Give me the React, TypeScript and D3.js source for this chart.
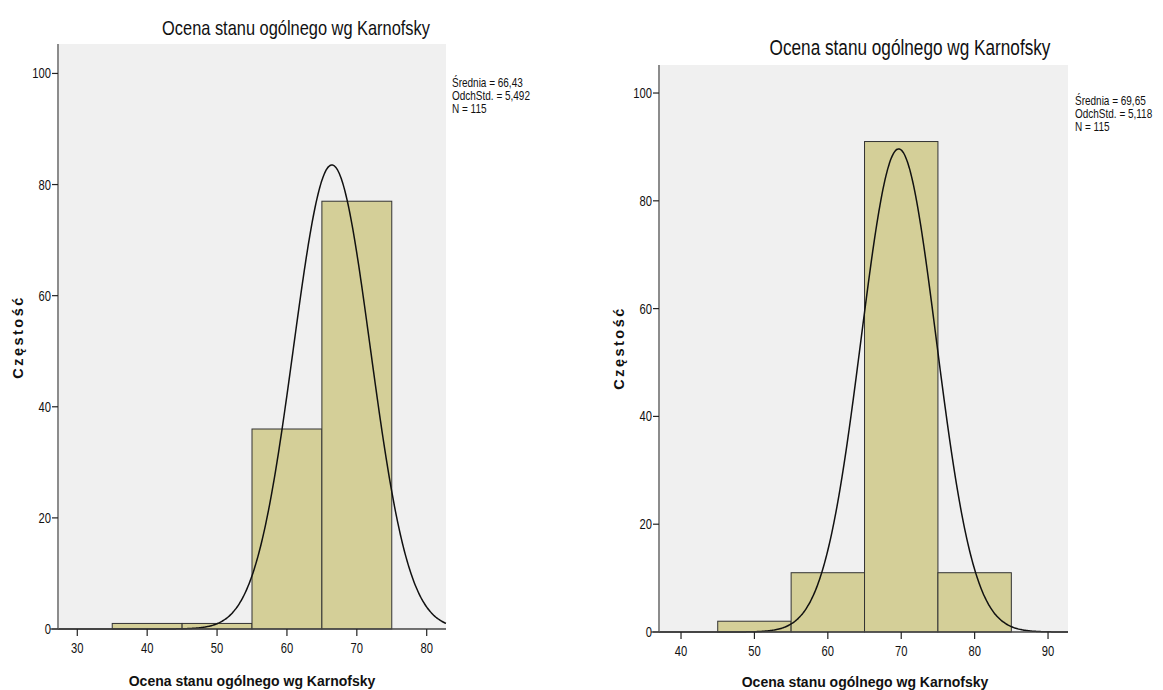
import React from "react";
import * as d3 from "d3";

// Histogram data: bin starts (width 10) and counts
const binWidth = 10;
const leftBinStarts = [35, 45, 55, 65];
const leftCounts = [1, 1, 36, 77];
const rightBinStarts = [45, 55, 65, 75];
const rightCounts = [2, 11, 91, 11];

// Descriptive statistics shown beside each chart
const leftMean = 66.43;
const leftSd = 5.492;
const leftN = 115;
const rightMean = 69.65;
const rightSd = 5.118;
const rightN = 115;

const leftStatLines = ["Średnia = 66,43", "OdchStd. = 5,492", "N = 115"];
const rightStatLines = ["Średnia = 69,65", "OdchStd. = 5,118", "N = 115"];

const yTicks = [0, 20, 40, 60, 80, 100];
const leftXTicks = [30, 40, 50, 60, 70, 80];
const rightXTicks = [40, 50, 60, 70, 80, 90];

const chartTitle = "Ocena stanu ogólnego wg Karnofsky";
const xTitle = "Ocena stanu ogólnego wg Karnofsky";
const yTitle = "Częstość";

const SANS = "'Liberation Sans', Arial, sans-serif";
const NARROW_SCALE = 0.8;

type Layout = {
  x0: number; x1: number; y0: number; y1: number;
  xDomain: [number, number]; yMax: number;
  titleX: number; titleY: number; titleSize: number;
  statsX: number; statsY: number; statsStep: number;
  xTitleX: number; xTitleY: number;
  yTitleX: number; yTitleY: number;
  axisLeftExt: number;
};

type Props = {
  layout: Layout;
  binStarts: number[];
  counts: number[];
  mean: number; sd: number; n: number;
  xTicks: number[];
  statLines: string[];
};

// condensed text: regular sans squeezed horizontally
function NarrowText({ x, y, size, anchor = "start", children }: {
  x: number; y: number; size: number; anchor?: "start" | "middle" | "end"; children: React.ReactNode;
}) {
  return (
    <text
      transform={`translate(${x},${y}) scale(${NARROW_SCALE},1)`}
      textAnchor={anchor}
      fontFamily={SANS}
      fontSize={size}
      fill="#111"
    >
      {children}
    </text>
  );
}

function Histogram({ layout: L, binStarts, counts, mean, sd, n, xTicks, statLines }: Props) {
  const x = d3.scaleLinear().domain(L.xDomain).range([L.x0, L.x1]);
  const y = d3.scaleLinear().domain([0, L.yMax]).range([L.y1, L.y0]);

  // fitted normal curve scaled to counts per bin
  const pdf = (v: number) =>
    (n * binWidth) / (sd * Math.sqrt(2 * Math.PI)) * Math.exp(-0.5 * ((v - mean) / sd) ** 2);
  const samples = d3.range(0, 401).map((i) => L.xDomain[0] + (i / 400) * (L.xDomain[1] - L.xDomain[0]));
  const line = d3.line<number>().x((v) => x(v)).y((v) => y(pdf(v))).curve(d3.curveBasis);

  return (
    <g>
      <rect x={L.x0} y={L.y0} width={L.x1 - L.x0} height={L.y1 - L.y0} fill="#f0f0f0" />
      {binStarts.map((b, i) => (
        <rect
          key={b}
          x={x(b)}
          y={y(counts[i])}
          width={x(b + binWidth) - x(b)}
          height={y(0) - y(counts[i])}
          fill="#d4cf98"
          stroke="#333"
          strokeWidth={1}
        />
      ))}
      <path d={line(samples) || ""} fill="none" stroke="#111" strokeWidth={1.5} />
      {/* y axis */}
      <line x1={L.x0} x2={L.x0} y1={L.y0} y2={L.y1} stroke="#8c8c8c" strokeWidth={2} />
      {yTicks.map((t) => (
        <g key={t}>
          <line x1={L.x0 - 6} x2={L.x0} y1={y(t)} y2={y(t)} stroke="#222" strokeWidth={1.2} />
          <NarrowText x={L.x0 - 7} y={y(t) + 5} size={14} anchor="end">{t}</NarrowText>
        </g>
      ))}
      {/* x axis */}
      <line x1={L.x0 - L.axisLeftExt} x2={L.x1} y1={L.y1} y2={L.y1} stroke="#444" strokeWidth={1.5} />
      {xTicks.map((t) => (
        <g key={t}>
          <line x1={x(t)} x2={x(t)} y1={L.y1} y2={L.y1 + 7} stroke="#222" strokeWidth={1.2} />
          <NarrowText x={x(t)} y={L.y1 + 24} size={14} anchor="middle">{t}</NarrowText>
        </g>
      ))}
      <NarrowText x={L.titleX} y={L.titleY} size={L.titleSize} anchor="middle">{chartTitle}</NarrowText>
      {statLines.map((s, i) => (
        <NarrowText key={s} x={L.statsX} y={L.statsY + i * L.statsStep} size={12.5}>{s}</NarrowText>
      ))}
      <text x={L.xTitleX} y={L.xTitleY} textAnchor="middle" fontFamily={SANS} fontWeight="bold" fontSize={14} fill="#111">
        {xTitle}
      </text>
      <text
        transform={`translate(${L.yTitleX},${L.yTitleY}) rotate(-90)`}
        textAnchor="middle"
        fontFamily={SANS}
        fontWeight="bold"
        fontSize={14.5}
        letterSpacing={2.5}
        fill="#111"
      >
        {yTitle}
      </text>
    </g>
  );
}

const leftLayout: Layout = {
  x0: 58, x1: 446, y0: 44, y1: 629,
  xDomain: [27.24, 82.76], yMax: 105.3,
  titleX: 296, titleY: 35, titleSize: 20.5,
  statsX: 452, statsY: 87, statsStep: 13,
  xTitleX: 252, xTitleY: 686,
  yTitleX: 23, yTitleY: 337,
  axisLeftExt: 8,
};

const rightLayout: Layout = {
  x0: 659, x1: 1068, y0: 65, y1: 632,
  xDomain: [37.0, 92.72], yMax: 105.2,
  titleX: 910, titleY: 55, titleSize: 21.5,
  statsX: 1075, statsY: 105, statsStep: 13,
  xTitleX: 865, xTitleY: 687,
  yTitleX: 624, yTitleY: 348,
  axisLeftExt: 8,
};

export default function App() {
  return (
    <svg
      width={1163}
      height={690}
      style={{ position: "absolute", left: 0, top: 0, background: "#fff" }}
    >
      <Histogram
        layout={leftLayout}
        binStarts={leftBinStarts}
        counts={leftCounts}
        mean={leftMean}
        sd={leftSd}
        n={leftN}
        xTicks={leftXTicks}
        statLines={leftStatLines}
      />
      <Histogram
        layout={rightLayout}
        binStarts={rightBinStarts}
        counts={rightCounts}
        mean={rightMean}
        sd={rightSd}
        n={rightN}
        xTicks={rightXTicks}
        statLines={rightStatLines}
      />
    </svg>
  );
}
